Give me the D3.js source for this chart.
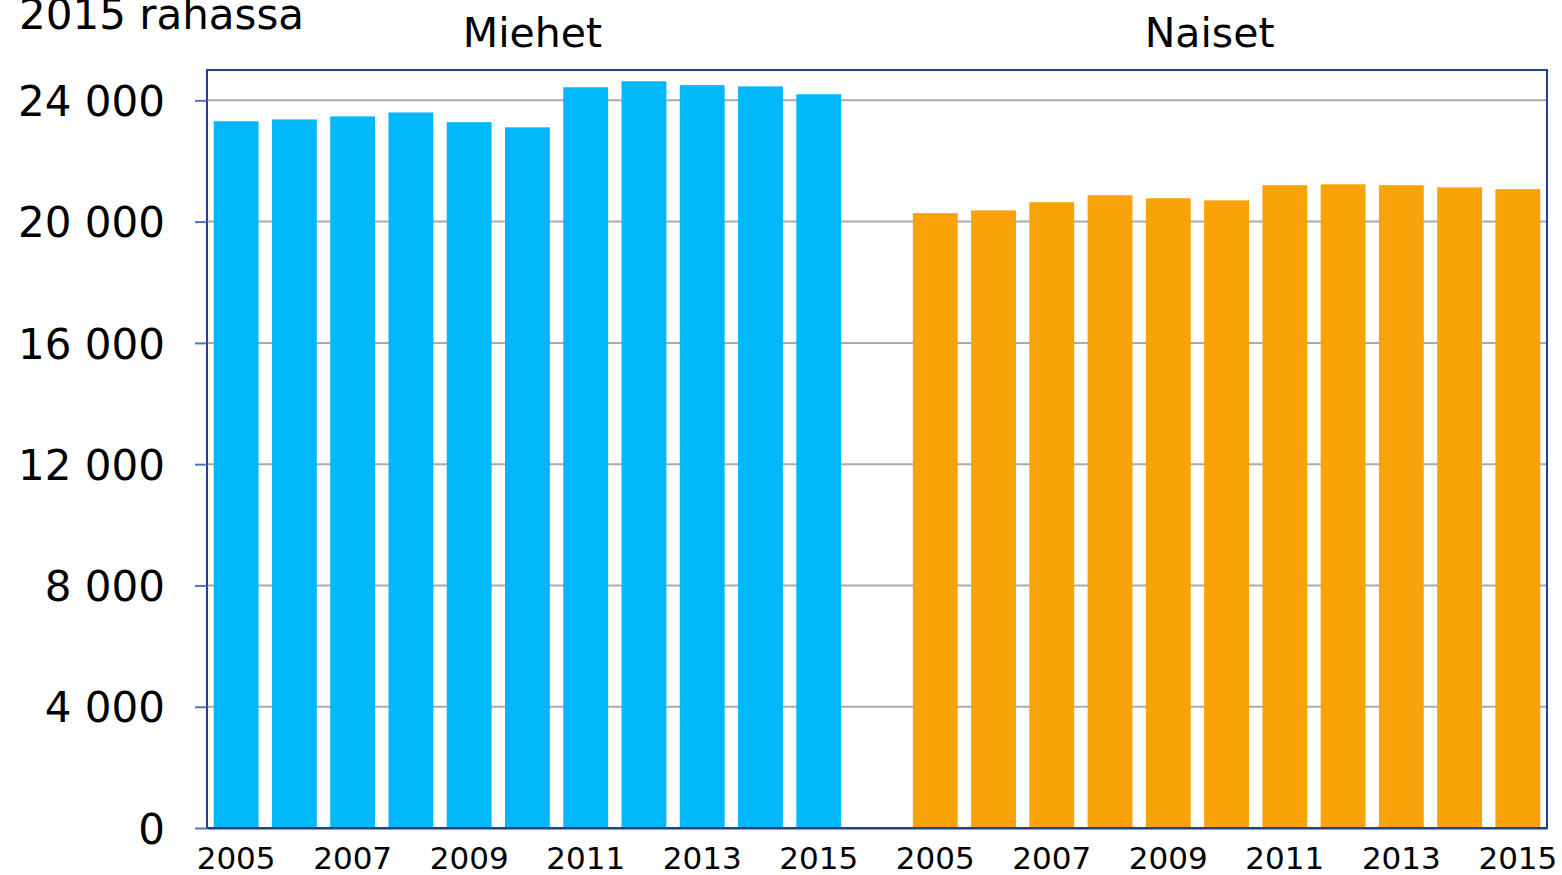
<!DOCTYPE html>
<html>
<head>
<meta charset="utf-8">
<script src="https://cdn.jsdelivr.net/npm/d3@7"></script>
<style>
  body { margin: 0; background: #fff; }
  svg { display: block; }
  svg text { font-family: 'DejaVu Sans', Verdana, sans-serif; }
</style>
</head>
<body>
<div id="wrapper"></div>
<script>
// data
const years = ['2005', '2006', '2007', '2008', '2009', '2010', '2011', '2012', '2013', '2014', '2015'];
const groups = ['Miehet', 'Naiset'];
const menValues = [23310, 23370, 23470, 23600, 23280, 23110, 24430, 24630, 24500, 24460, 24200];
const womenValues = [20280, 20370, 20640, 20870, 20770, 20700, 21200, 21230, 21200, 21130, 21070];
const yTicks = [0, 4000, 8000, 12000, 16000, 20000, 24000];
const xTickYears = ['2005', '2007', '2009', '2011', '2013', '2015'];
const yTitle = '2015 rahassa';

function drawChart() {
  const dimensions = {
    width: 1562,
    height: 875,
    margin: { top: 70, right: 15, bottom: 47, left: 207 },
  };
  dimensions.boundedWidth = dimensions.width - dimensions.margin.left - dimensions.margin.right;
  dimensions.boundedHeight = dimensions.height - dimensions.margin.top - dimensions.margin.bottom;

  const dataset = [
    ...years.map((y, i) => ({ key: 'M' + y, year: y, group: 'Miehet', value: menValues[i] })),
    { key: 'gap', year: '', group: null, value: null },
    ...years.map((y, i) => ({ key: 'N' + y, year: y, group: 'Naiset', value: womenValues[i] })),
  ];

  const wrapper = d3.select('#wrapper')
    .append('svg')
    .attr('width', dimensions.width)
    .attr('height', dimensions.height);

  const bounds = wrapper.append('g')
    .attr('transform', `translate(${dimensions.margin.left}, ${dimensions.margin.top})`);

  // scales
  const xScale = d3.scaleBand()
    .domain(dataset.map(d => d.key))
    .range([0, dimensions.boundedWidth])
    .paddingInner(0.23)
    .paddingOuter(0.115);

  const yScale = d3.scaleLinear()
    .domain([0, 25000])
    .range([dimensions.boundedHeight, 0]);

  const colors = { Miehet: '#03b8fa', Naiset: '#f9a20a' };

  // gridlines
  bounds.append('g')
    .selectAll('line')
    .data(yTicks.filter(d => d > 0))
    .join('line')
    .attr('x1', 0)
    .attr('x2', dimensions.boundedWidth)
    .attr('y1', d => yScale(d))
    .attr('y2', d => yScale(d))
    .attr('stroke', '#aaaaaa')
    .attr('stroke-width', 2);

  // bars
  bounds.append('g')
    .selectAll('rect')
    .data(dataset.filter(d => d.value != null))
    .join('rect')
    .attr('x', d => xScale(d.key))
    .attr('width', xScale.bandwidth())
    .attr('y', d => yScale(d.value))
    .attr('height', d => dimensions.boundedHeight - yScale(d.value))
    .attr('fill', d => colors[d.group]);

  // frame
  bounds.append('rect')
    .attr('x', 0)
    .attr('y', 0)
    .attr('width', dimensions.boundedWidth)
    .attr('height', dimensions.boundedHeight)
    .attr('fill', 'none')
    .attr('stroke', '#1f418f')
    .attr('stroke-width', 2);

  // y axis
  const fmt = d => d3.format(',')(d).replace(/,/g, ' ');
  const yAxis = bounds.append('g')
    .call(d3.axisLeft(yScale).tickValues(yTicks).tickSize(12).tickPadding(30).tickFormat(fmt))
    .attr('font-family', null);
  yAxis.select('.domain').remove();
  yAxis.selectAll('.tick line').attr('stroke', '#4f74b8').attr('stroke-width', 2);
  yAxis.selectAll('.tick text')
    .attr('fill', '#000')
    .style('font-size', '42px')
    .attr('dy', '0.36em');

  // x axis
  const xAxis = bounds.append('g')
    .attr('transform', `translate(0, ${dimensions.boundedHeight})`)
    .call(d3.axisBottom(xScale)
      .tickValues(dataset.filter(d => xTickYears.includes(d.year)).map(d => d.key))
      .tickSize(0)
      .tickPadding(19)
      .tickFormat(k => k.slice(1)))
    .attr('font-family', null);
  xAxis.select('.domain').attr('stroke', '#1f418f').attr('stroke-width', 2);
  xAxis.selectAll('.tick text')
    .attr('fill', '#000')
    .style('font-size', '31px');

  // group titles
  const groupCenter = g => {
    const keys = dataset.filter(d => d.group === g).map(d => d.key);
    return (xScale(keys[0]) + xScale(keys[keys.length - 1]) + xScale.bandwidth()) / 2;
  };
  const titleOffset = { Miehet: 5, Naiset: -17 };
  bounds.append('g')
    .selectAll('text')
    .data(groups)
    .join('text')
    .attr('x', g => groupCenter(g) + titleOffset[g])
    .attr('y', -23)
    .attr('text-anchor', 'middle')
    .style('font-size', '41px')
    .text(g => g);

  // y axis title
  wrapper.append('text')
    .attr('x', 19)
    .attr('y', 29)
    .style('font-size', '42px')
    .text(yTitle);
}
drawChart();
</script>
</body>
</html>
